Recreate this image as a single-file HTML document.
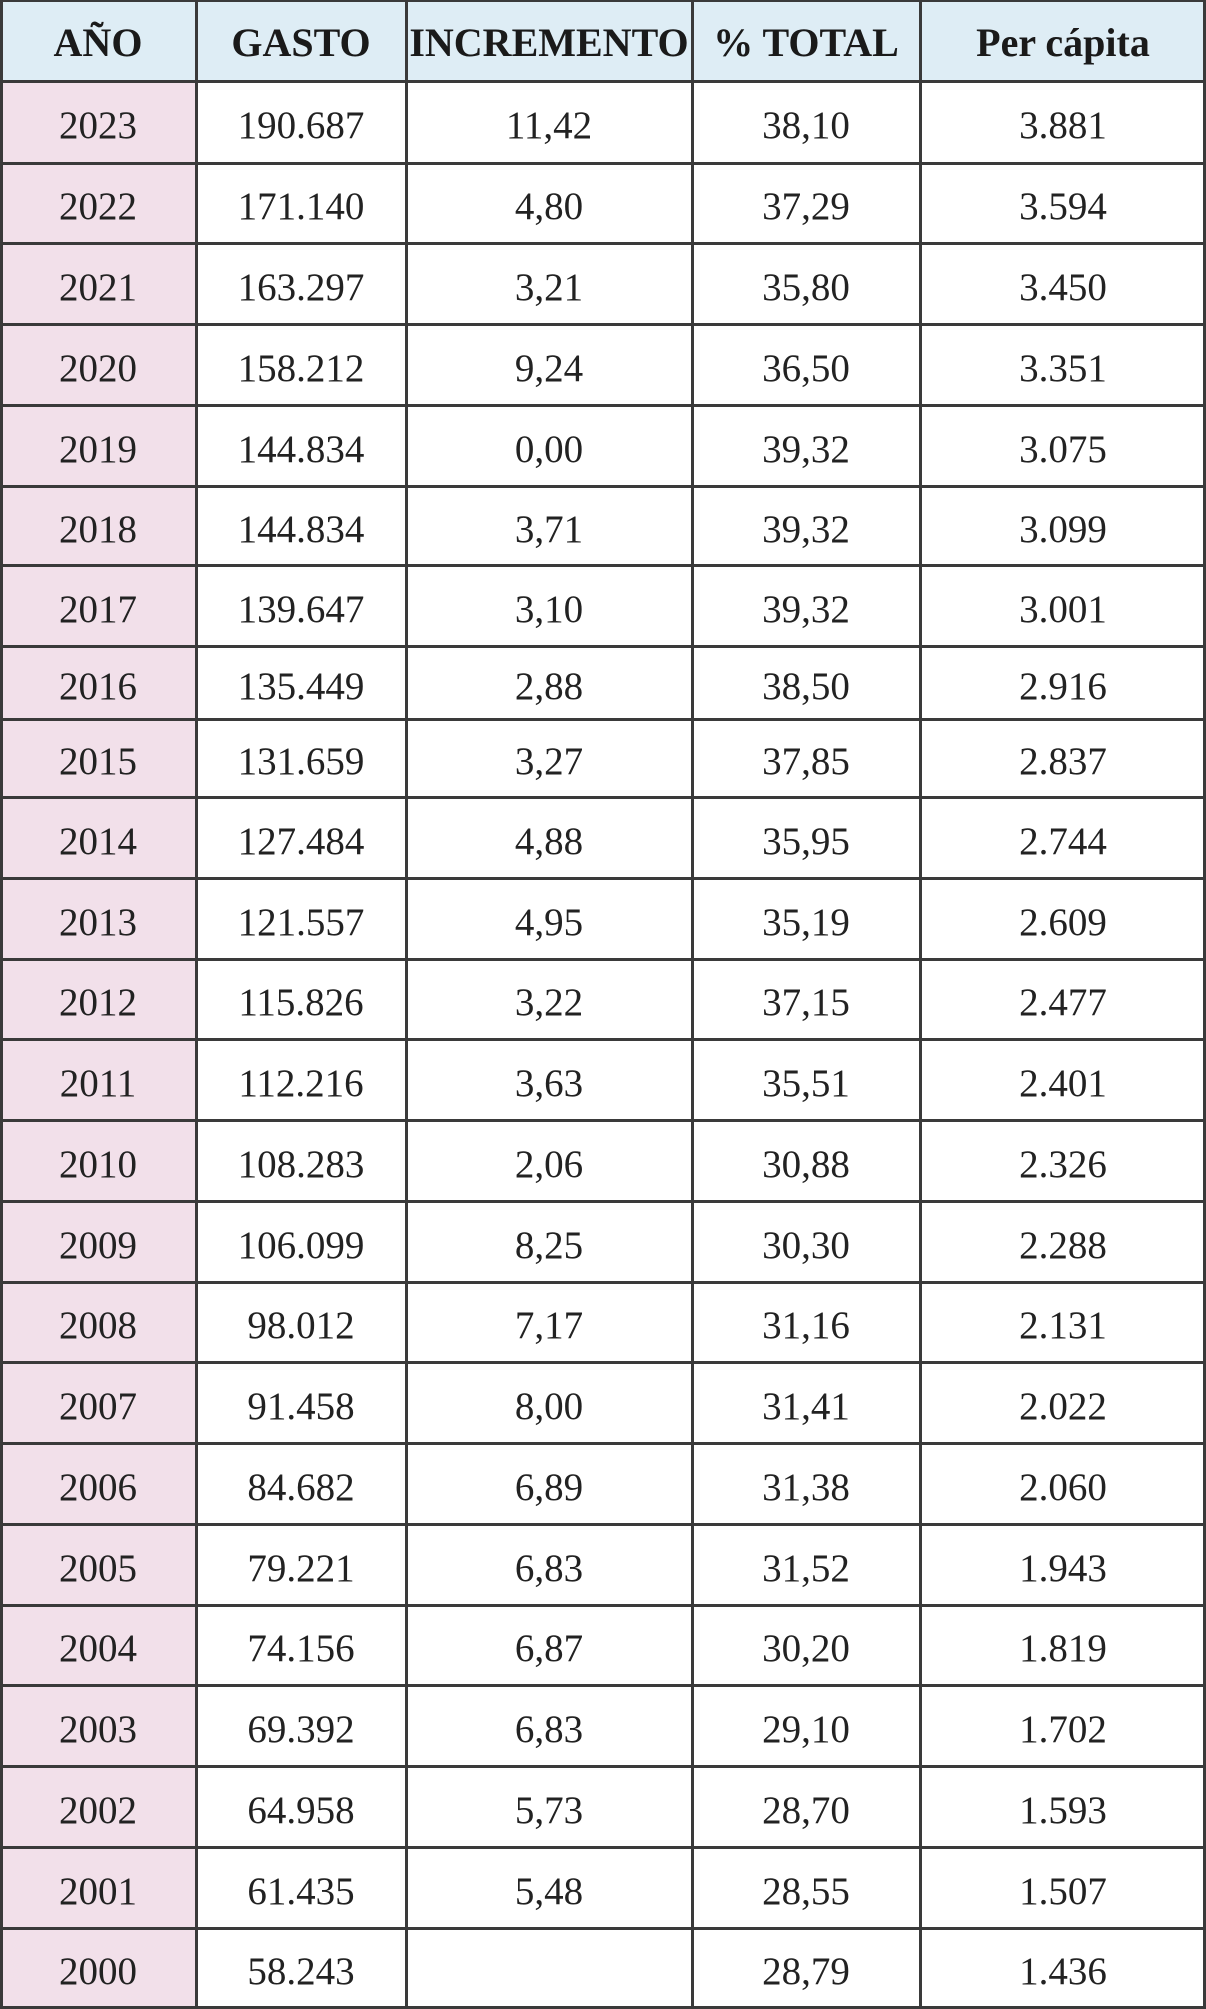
<!DOCTYPE html>
<html><head><meta charset="utf-8"><style>
html,body{margin:0;padding:0;background:#fff;}
body{width:1206px;height:2009px;position:relative;overflow:hidden;font-family:"Liberation Serif",serif;color:#222;}
.c{position:absolute;box-sizing:border-box;display:flex;align-items:center;justify-content:center;font-size:39px;padding-top:6px;}
.h{background:#deedf5;font-weight:bold;color:#1a1a1a;font-size:40px;padding-top:2px;}
.y{background:#f2e0ea;}
.hl{position:absolute;left:0;width:1206px;height:3px;background:#3a3a3a;}
.vl{position:absolute;top:0;width:3px;height:2009px;background:#3a3a3a;}
</style></head><body>
<div id="t"></div>
<script>
var b=[0,81,163,243,324,405,486,565,646,719,797,878,959,1039,1120,1201,1282,1362,1443,1524,1605,1685,1766,1847,1928,2008];
var xs=[0,196,406,692,920,1206];
var rows=[["AÑO","GASTO","INCREMENTO","% TOTAL","Per cápita"],
["2023","190.687","11,42","38,10","3.881"],["2022","171.140","4,80","37,29","3.594"],["2021","163.297","3,21","35,80","3.450"],["2020","158.212","9,24","36,50","3.351"],["2019","144.834","0,00","39,32","3.075"],["2018","144.834","3,71","39,32","3.099"],["2017","139.647","3,10","39,32","3.001"],["2016","135.449","2,88","38,50","2.916"],["2015","131.659","3,27","37,85","2.837"],["2014","127.484","4,88","35,95","2.744"],["2013","121.557","4,95","35,19","2.609"],["2012","115.826","3,22","37,15","2.477"],["2011","112.216","3,63","35,51","2.401"],["2010","108.283","2,06","30,88","2.326"],["2009","106.099","8,25","30,30","2.288"],["2008","98.012","7,17","31,16","2.131"],["2007","91.458","8,00","31,41","2.022"],["2006","84.682","6,89","31,38","2.060"],["2005","79.221","6,83","31,52","1.943"],["2004","74.156","6,87","30,20","1.819"],["2003","69.392","6,83","29,10","1.702"],["2002","64.958","5,73","28,70","1.593"],["2001","61.435","5,48","28,55","1.507"],["2000","58.243","","28,79","1.436"]];
var h="";
for(var r=0;r<rows.length;r++)for(var c=0;c<5;c++){
var cls="c"+(r==0?" h":(c==0?" y":""));
h+='<div class="'+cls+'" style="left:'+xs[c]+'px;top:'+b[r]+'px;width:'+(xs[c+1]-xs[c])+'px;height:'+(b[r+1]-b[r]+1)+'px">'+rows[r][c]+'</div>';}
for(var i=0;i<b.length;i++)h+='<div class="hl" style="top:'+Math.min(b[i]-1,2006)+'px"></div>';
for(var i=0;i<xs.length;i++)h+='<div class="vl" style="left:'+Math.min(Math.max(xs[i]-1,0),1203)+'px"></div>';
document.getElementById("t").innerHTML=h;
</script>
</body></html>
